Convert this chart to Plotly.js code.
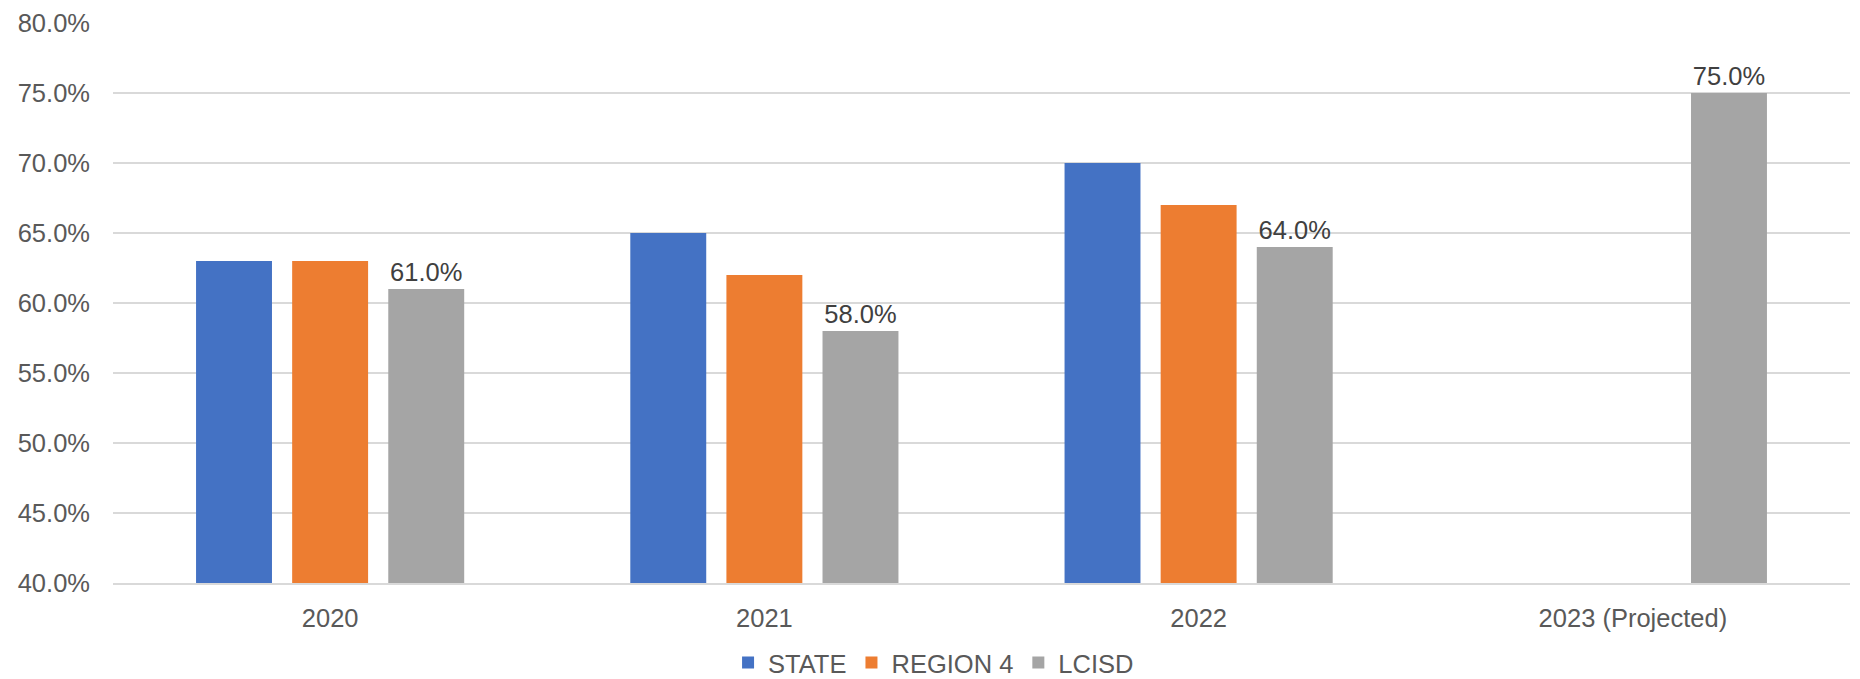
<!DOCTYPE html>
<html>
<head>
<meta charset="utf-8">
<script src="https://cdn.plot.ly/plotly-3.0.1.min.js"></script>
<style>
html, body { margin: 0; padding: 0; background: #ffffff; }
#chart { width: 1860px; height: 679px; }
</style>
</head>
<body>
<div id="chart"></div>
<script>
const categories = ["2020", "2021", "2022", "2023 (Projected)"];
const stateValues = [63, 65, 70, null];
const region4Values = [63, 62, 67, null];
const lcisdValues = [61, 58, 64, 75];
const seriesNames = ["STATE", "REGION 4", "LCISD"];
const yTicks = [40, 45, 50, 55, 60, 65, 70, 75, 80];

const FONT = "Liberation Sans, Arial, sans-serif";
const FS = 25.5;

const traces = [
  {
    type: "bar", name: seriesNames[0], x: categories, y: stateValues,
    marker: { color: "#4472C4" }, hoverinfo: "skip"
  },
  {
    type: "bar", name: seriesNames[1], x: categories, y: region4Values,
    marker: { color: "#ED7D31" }, hoverinfo: "skip"
  },
  {
    type: "bar", name: seriesNames[2], x: categories, y: lcisdValues,
    marker: { color: "#A5A5A5" }, hoverinfo: "skip",
    texttemplate: "%{y:.1f}%", textposition: "outside", cliponaxis: false,
    textfont: { family: FONT, size: FS, color: "#404040" }
  }
];

const layout = {
  width: 1860, height: 679,
  paper_bgcolor: "#ffffff", plot_bgcolor: "#ffffff",
  margin: { l: 113, r: 10, t: 23, b: 96, pad: 0, autoexpand: false },
  barmode: "group",
  bargap: 0.336,
  bargroupgap: 0.21,
  showlegend: true,
  legend: {
    orientation: "h", x: 0.4724, xanchor: "center",
    yref: "container", y: 0.0236, yanchor: "middle",
    font: { family: FONT, size: FS, color: "#595959" },
    itemwidth: 30, bgcolor: "rgba(0,0,0,0)"
  },
  font: { family: FONT, size: FS, color: "#595959" },
  xaxis: {
    type: "category",
    showgrid: false, zeroline: false,
    showline: true, linecolor: "#D9D9D9", linewidth: 1.5,
    ticks: "", ticklabelstandoff: 12,
    tickfont: { family: FONT, size: FS, color: "#595959" }
  },
  yaxis: {
    range: [40, 80],
    tickvals: yTicks,
    ticktext: yTicks.map(v => v.toFixed(1) + "%"),
    showgrid: true, gridcolor: "#D9D9D9", gridwidth: 1.5,
    zeroline: false, showline: false,
    ticks: "", ticklabelstandoff: 22,
    tickfont: { family: FONT, size: FS, color: "#595959" }
  },
  hovermode: false
};

Plotly.newPlot("chart", traces, layout, { displayModeBar: false, staticPlot: true });
</script>
</body>
</html>
